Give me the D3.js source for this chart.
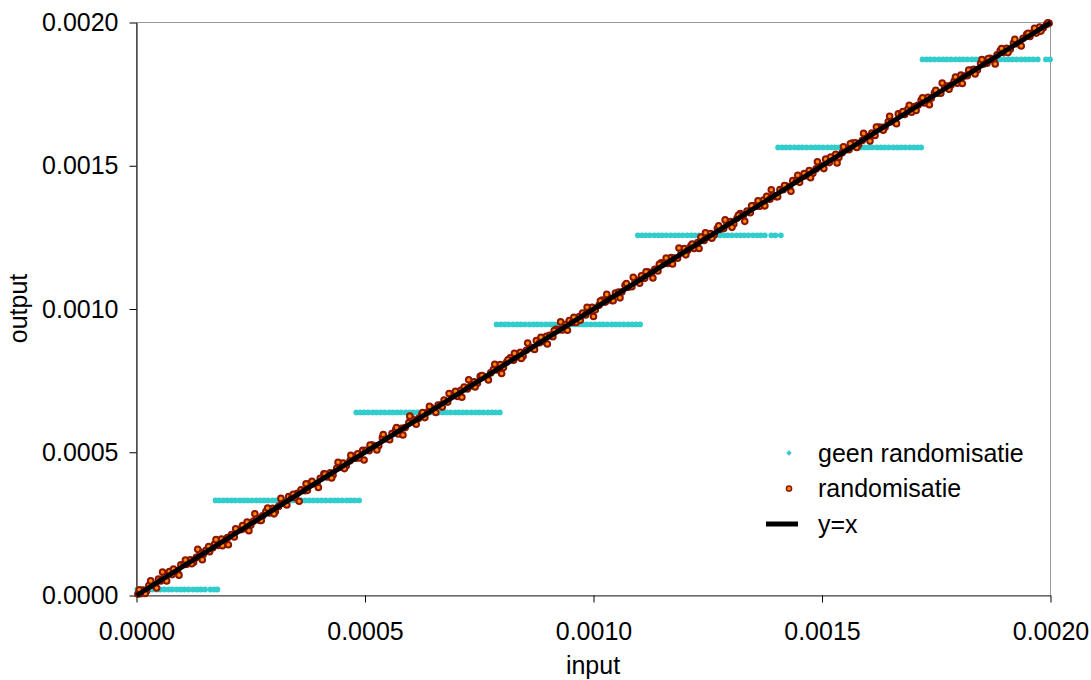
<!DOCTYPE html>
<html>
<head>
<meta charset="utf-8">
<script src="https://cdn.jsdelivr.net/npm/d3@7/dist/d3.min.js"></script>
<style>
  body { margin: 0; background: #fff; }
  text { font-family: "Liberation Sans", Arial, sans-serif; fill: #000; }
</style>
</head>
<body>
<div class="canvas"></div>
<script>
// all values below are in units of 1e-6
const UNIT = 1e-6;

// "geen randomisatie": output levels and the inputs that land on each level
const stepLevels = [21, 332, 639, 946, 1257, 1564, 1871];
const stepInputs = [
  [2, 9, 18, 27, 35, 44, 52, 61, 70, 78, 88, 97, 105, 114, 124, 133, 141, 150, 162, 170, 177],
  [173, 181, 190, 199, 208, 216, 226, 235, 243, 252, 262, 271, 279, 288, 298, 306, 315, 324, 334, 342, 351, 360, 369, 378, 387, 396, 405, 414, 424, 433, 441, 450, 460, 468, 477, 487],
  [481, 490, 498, 507, 517, 525, 534, 543, 553, 561, 570, 579, 589, 598, 606, 615, 625, 633, 642, 651, 661, 670, 678, 687, 697, 705, 714, 723, 733, 742, 750, 759, 769, 778, 786, 795],
  [788, 797, 806, 814, 824, 833, 841, 850, 860, 869, 877, 886, 896, 905, 913, 922, 932, 941, 949, 958, 968, 977, 985, 994, 1004, 1013, 1021, 1030, 1040, 1049, 1057, 1066, 1076, 1085, 1093, 1102],
  [1097, 1106, 1114, 1123, 1133, 1142, 1150, 1159, 1169, 1178, 1186, 1195, 1205, 1214, 1222, 1231, 1241, 1250, 1258, 1267, 1277, 1286, 1294, 1303, 1313, 1322, 1330, 1339, 1349, 1358, 1366, 1375, 1389, 1398, 1410],
  [1404, 1413, 1421, 1430, 1440, 1449, 1457, 1466, 1476, 1485, 1493, 1502, 1512, 1521, 1529, 1538, 1548, 1557, 1565, 1574, 1584, 1593, 1601, 1610, 1620, 1629, 1637, 1646, 1656, 1665, 1673, 1682, 1692, 1701, 1709, 1717],
  [1720, 1729, 1737, 1746, 1756, 1765, 1773, 1782, 1792, 1801, 1809, 1818, 1828, 1837, 1845, 1854, 1864, 1873, 1881, 1890, 1900, 1909, 1917, 1926, 1936, 1945, 1953, 1962, 1972, 1990, 1999]
];

// "randomisatie": inputs and outputs
const randX = [3, 9, 14, 22, 27, 35, 41, 48, 53, 61, 72, 78, 84, 90, 97, 104, 110, 118, 125, 131,
  139, 146, 152, 160, 167, 171, 179, 186, 193, 199, 208, 214, 221, 229, 235, 242, 250, 256, 263, 270,
  276, 283, 291, 298, 304, 311, 318, 325, 333, 340, 347, 352, 360, 368, 374, 381, 389, 395, 402, 410,
  417, 424, 430, 438, 446, 452, 459, 467, 474, 480, 488, 495, 502, 509, 516, 522, 530, 538, 545, 551,
  559, 567, 573, 580, 588, 596, 602, 609, 617, 624, 631, 638, 645, 652, 660, 667, 673, 681, 688, 696,
  703, 710, 717, 724, 731, 739, 746, 752, 760, 768, 775, 781, 789, 796, 803, 810, 818, 825, 832, 840,
  846, 853, 861, 868, 875, 882, 890, 897, 904, 911, 918, 926, 932, 940, 947, 954, 962, 969, 976, 983,
  990, 997, 1004, 1012, 1019, 1026, 1033, 1040, 1048, 1055, 1062, 1069, 1076, 1084, 1091, 1098, 1105, 1112, 1120, 1127,
  1134, 1141, 1148, 1156, 1163, 1170, 1177, 1184, 1192, 1199, 1206, 1213, 1220, 1228, 1235, 1242, 1249, 1256, 1264, 1271,
  1278, 1285, 1292, 1300, 1307, 1314, 1321, 1328, 1336, 1343, 1350, 1357, 1364, 1372, 1379, 1386, 1393, 1400, 1408, 1415,
  1422, 1429, 1436, 1444, 1451, 1458, 1465, 1472, 1480, 1487, 1494, 1501, 1508, 1516, 1523, 1530, 1537, 1544, 1552, 1559,
  1566, 1573, 1580, 1588, 1595, 1602, 1609, 1616, 1624, 1631, 1638, 1645, 1652, 1660, 1667, 1674, 1681, 1688, 1696, 1703,
  1710, 1717, 1724, 1732, 1739, 1746, 1753, 1760, 1768, 1775, 1782, 1789, 1796, 1804, 1811, 1818, 1825, 1832, 1840, 1847,
  1854, 1861, 1868, 1876, 1883, 1890, 1897, 1904, 1912, 1919, 1926, 1933, 1940, 1948, 1955, 1962, 1969, 1976, 1984, 1991, 1997,
  6, 19, 31, 44, 57, 66, 81, 93, 107, 121, 134, 144, 158, 174, 188, 201, 217, 232, 246, 259,
  273, 287, 301, 316, 329, 343, 356, 371, 384, 398, 412, 427, 441, 455, 469, 484, 498, 511, 526, 540,
  554, 569, 583, 598, 612, 626, 641, 655, 669, 684, 698, 712, 727, 741, 756, 770, 784, 799, 813, 827,
  842, 856, 871, 885, 899, 914, 928, 943, 957, 971, 986, 1000, 1015, 1029, 1043, 1058, 1072, 1087, 1101, 1115,
  1130, 1144, 1159, 1173, 1187, 1202, 1216, 1231, 1245, 1259, 1274, 1288, 1303, 1317, 1331, 1346, 1360, 1375, 1389, 1403,
  1418, 1432, 1447, 1461, 1475, 1490, 1504, 1519, 1533, 1547, 1562, 1576, 1591, 1605, 1619, 1634, 1648, 1663, 1677, 1691,
  1706, 1720, 1735, 1749, 1763, 1778, 1792, 1807, 1821, 1835, 1850, 1864, 1879, 1893, 1907, 1922, 1936, 1951, 1965, 1979, 1994];
const randY = [5, 6, 19, 16, 35, 36, 37, 57, 51, 67, 84, 73, 87, 82, 107, 108, 109, 125, 116, 133,
  152, 143, 158, 153, 167, 180, 175, 197, 187, 202, 213, 204, 229, 230, 233, 256, 245, 260, 270, 262,
  278, 293, 288, 304, 293, 311, 326, 321, 345, 343, 341, 357, 369, 366, 367, 392, 390, 390, 409, 425,
  414, 428, 421, 444, 448, 462, 453, 470, 482, 479, 480, 507, 507, 505, 525, 522, 523, 551, 547, 548,
  565, 578, 564, 584, 586, 604, 618, 604, 618, 631, 621, 641, 655, 648, 665, 666, 682, 675, 702, 698,
  695, 716, 728, 721, 731, 746, 741, 765, 764, 759, 777, 789, 787, 806, 796, 815, 830, 821, 833, 849,
  835, 856, 867, 862, 890, 882, 887, 905, 908, 903, 929, 928, 927, 947, 960, 953, 953, 974, 986, 979,
  993, 1006, 997, 1013, 1031, 1024, 1039, 1030, 1056, 1059, 1059, 1083, 1076, 1078, 1098, 1100, 1116, 1107, 1129, 1126,
  1139, 1133, 1161, 1159, 1159, 1180, 1178, 1177, 1198, 1211, 1204, 1221, 1211, 1232, 1251, 1239, 1251, 1263, 1258, 1282,
  1278, 1281, 1301, 1305, 1297, 1317, 1333, 1327, 1342, 1336, 1360, 1359, 1359, 1380, 1393, 1383, 1397, 1392, 1417, 1416,
  1429, 1425, 1448, 1447, 1442, 1463, 1465, 1483, 1474, 1489, 1502, 1499, 1523, 1511, 1529, 1540, 1529, 1545, 1556, 1556,
  1579, 1580, 1573, 1588, 1604, 1601, 1614, 1606, 1635, 1634, 1634, 1653, 1654, 1654, 1681, 1680, 1679, 1698, 1687, 1707,
  1711, 1729, 1719, 1739, 1736, 1755, 1753, 1753, 1779, 1778, 1781, 1795, 1788, 1817, 1813, 1814, 1833, 1837, 1834, 1857,
  1855, 1858, 1875, 1867, 1887, 1902, 1895, 1910, 1907, 1928, 1926, 1926, 1945, 1959, 1951, 1965, 1963, 1984, 1981, 1993, 1997,
  20, 7, 51, 26, 82, 51, 92, 71, 124, 111, 161, 125, 171, 195, 174, 177, 233, 244, 226, 285,
  262, 305, 285, 339, 316, 353, 329, 390, 399, 377, 424, 410, 465, 443, 489, 495, 473, 525, 508, 562,
  544, 586, 560, 626, 598, 639, 660, 639, 658, 705, 713, 692, 753, 728, 768, 752, 807, 775, 823, 845,
  827, 881, 859, 901, 878, 925, 955, 926, 971, 961, 1006, 974, 1028, 1051, 1029, 1039, 1089, 1111, 1090, 1130,
  1108, 1156, 1178, 1157, 1213, 1189, 1227, 1211, 1266, 1247, 1290, 1311, 1285, 1327, 1306, 1360, 1378, 1360, 1416, 1392,
  1431, 1411, 1467, 1473, 1458, 1514, 1490, 1530, 1510, 1566, 1577, 1564, 1613, 1586, 1635, 1624, 1673, 1647, 1689, 1711,
  1693, 1737, 1713, 1763, 1789, 1767, 1810, 1787, 1834, 1820, 1871, 1874, 1855, 1909, 1895, 1941, 1918, 1962, 1980, 1970, 1999];

// reference line y=x
const lineX = [0, 2000];
const lineY = [0, 2000];

const tickValues = [0, 500, 1000, 1500, 2000];
const legendLabels = ['geen randomisatie', 'randomisatie', 'y=x'];

const cyanColor = '#33cccc';
const redFill = '#ff8c00';
const redStroke = '#8c1400';

const width = 1091;
const height = 680;

const svg = d3.select('.canvas')
    .append('svg')
    .attr('width', width)
    .attr('height', height);

const margin = { top: 22, right: 41, bottom: 85, left: 136 };
const graphWidth = width - margin.left - margin.right;   // 914
const graphHeight = height - margin.top - margin.bottom; // 573

const graph = svg.append('g')
    .attr('transform', `translate(${margin.left + 0.5},${margin.top + 0.5})`);

const x = d3.scaleLinear()
    .domain([0, 0.002])
    .range([0, graphWidth]);

const y = d3.scaleLinear()
    .domain([0, 0.002])
    .range([graphHeight, 0]);

// plot border (top and right in grey)
graph.append('rect')
    .attr('width', graphWidth)
    .attr('height', graphHeight)
    .attr('fill', 'none')
    .attr('stroke', '#9a9a9a')
    .attr('stroke-width', 1);

// axes
const fmt = d => d.toFixed(4);

const xAxisGroup = graph.append('g')
    .attr('transform', `translate(0, ${graphHeight})`)
    .call(d3.axisBottom(x)
        .tickValues(tickValues.map(v => v * UNIT))
        .tickFormat(fmt)
        .tickSize(7)
        .tickSizeOuter(0)
        .tickPadding(20));

const yAxisGroup = graph.append('g')
    .call(d3.axisLeft(y)
        .tickValues(tickValues.map(v => v * UNIT))
        .tickFormat(fmt)
        .tickSize(7)
        .tickSizeOuter(0)
        .tickPadding(11));

xAxisGroup.select('.domain').attr('stroke', '#404040');
yAxisGroup.select('.domain').attr('stroke', '#000');
[xAxisGroup, yAxisGroup].forEach(g => {
    g.selectAll('.tick line').attr('stroke', '#000');
    g.selectAll('text')
        .attr('fill', '#000')
        .attr('font-size', 25)
        .style('font-family', '"Liberation Sans", Arial, sans-serif');
});

// axis titles
svg.append('text')
    .attr('x', margin.left + graphWidth / 2)
    .attr('y', 674)
    .attr('text-anchor', 'middle')
    .attr('font-size', 25)
    .text('input');

svg.append('text')
    .attr('transform', `translate(27, ${margin.top + graphHeight / 2}) rotate(-90)`)
    .attr('text-anchor', 'middle')
    .attr('font-size', 25)
    .text('output');

// geen randomisatie (small blobs forming the steps)
const cyanPoints = [];
stepInputs.forEach((xs, i) => xs.forEach(v => cyanPoints.push({ x: v, y: stepLevels[i] })));

graph.append('g')
    .selectAll('circle')
    .data(cyanPoints)
    .enter()
    .append('circle')
    .attr('cx', d => x(d.x * UNIT))
    .attr('cy', d => y(d.y * UNIT))
    .attr('r', 2.9)
    .attr('fill', cyanColor);

// randomisatie (circles)
graph.append('g')
    .selectAll('circle')
    .data(randX.map((v, i) => ({ x: v, y: randY[i] })))
    .enter()
    .append('circle')
    .attr('cx', d => x(d.x * UNIT))
    .attr('cy', d => y(d.y * UNIT))
    .attr('r', 2.8)
    .attr('fill', redFill)
    .attr('stroke', redStroke)
    .attr('stroke-width', 2);

// y=x
const line = d3.line()
    .x(d => x(d[0] * UNIT))
    .y(d => y(d[1] * UNIT));

graph.append('path')
    .datum(lineX.map((v, i) => [v, lineY[i]]))
    .attr('d', line)
    .attr('fill', 'none')
    .attr('stroke', '#000')
    .attr('stroke-width', 5);

// legend
const legend = svg.append('g')
    .attr('transform', 'translate(766, 453)');

const rowGap = 35.5;

legend.append('path')
    .attr('d', d3.symbol().type(d3.symbolSquare).size(15))
    .attr('transform', 'translate(23,0) rotate(45)')
    .attr('fill', cyanColor);

legend.append('circle')
    .attr('cx', 23)
    .attr('cy', rowGap)
    .attr('r', 2.6)
    .attr('fill', redFill)
    .attr('stroke', redStroke)
    .attr('stroke-width', 1.5);

legend.append('line')
    .attr('x1', 0)
    .attr('x2', 32)
    .attr('y1', rowGap * 2)
    .attr('y2', rowGap * 2)
    .attr('stroke', '#000')
    .attr('stroke-width', 5);

legend.selectAll('text')
    .data(legendLabels)
    .enter()
    .append('text')
    .attr('x', 52)
    .attr('y', (d, i) => i * rowGap)
    .attr('dy', '0.35em')
    .attr('font-size', 25)
    .text(d => d);
</script>
</body>
</html>
